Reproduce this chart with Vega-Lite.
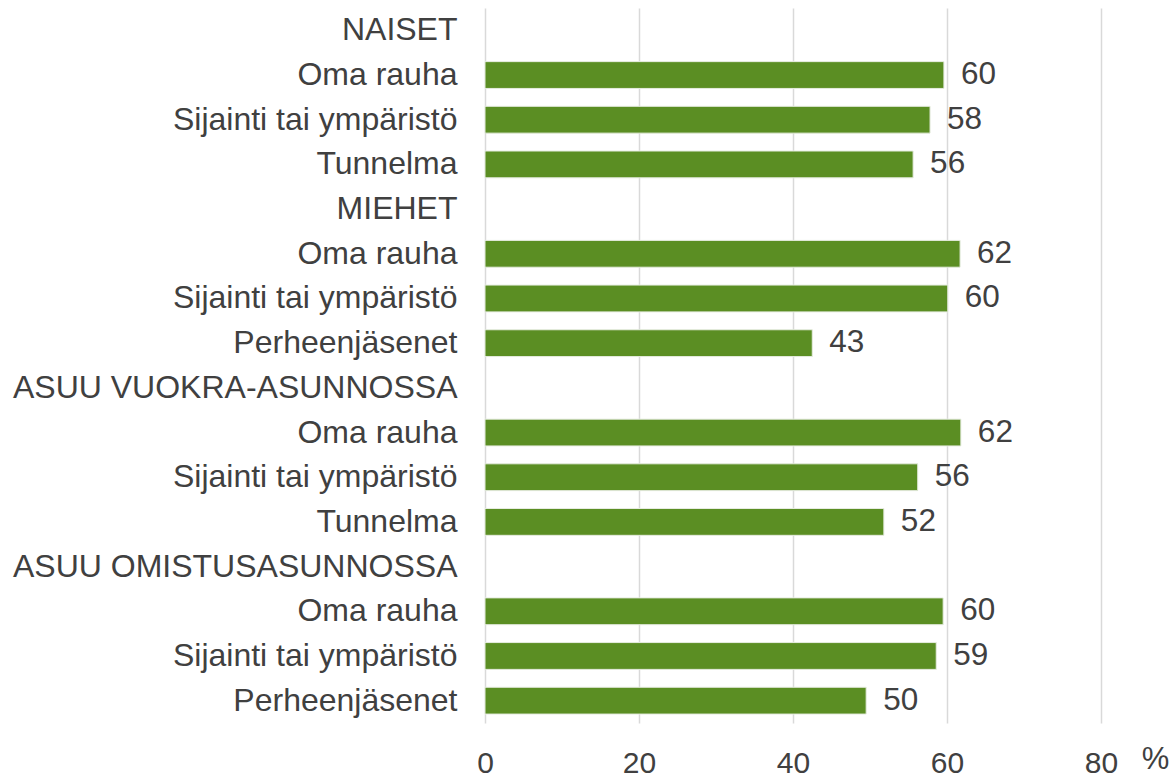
{
  "$schema": "https://vega.github.io/schema/vega-lite/v6.json",
  "autosize": {"type": "none"},
  "padding": {"left": 485, "top": 8, "right": 69, "bottom": 53},
  "width": 616,
  "height": 715,
  "background": "#ffffff",
  "config": {
    "font": "Liberation Sans",
    "view": {"stroke": null}
  },
  "data": {
    "values": [
      {"id": "01|NAISET", "value": null},
      {"id": "02|Oma rauha", "value": 59.6},
      {"id": "03|Sijainti tai ympäristö", "value": 57.8},
      {"id": "04|Tunnelma", "value": 55.6},
      {"id": "05|MIEHET", "value": null},
      {"id": "06|Oma rauha", "value": 61.7},
      {"id": "07|Sijainti tai ympäristö", "value": 60.1},
      {"id": "08|Perheenjäsenet", "value": 42.5},
      {"id": "09|ASUU VUOKRA-ASUNNOSSA", "value": null},
      {"id": "10|Oma rauha", "value": 61.8},
      {"id": "11|Sijainti tai ympäristö", "value": 56.2},
      {"id": "12|Tunnelma", "value": 51.8},
      {"id": "13|ASUU OMISTUSASUNNOSSA", "value": null},
      {"id": "14|Oma rauha", "value": 59.5},
      {"id": "15|Sijainti tai ympäristö", "value": 58.6},
      {"id": "16|Perheenjäsenet", "value": 49.5}
    ]
  },
  "encoding": {
    "y": {
      "field": "id",
      "type": "nominal",
      "scale": {
        "domain": ["01|NAISET", "02|Oma rauha", "03|Sijainti tai ympäristö", "04|Tunnelma", "05|MIEHET", "06|Oma rauha", "07|Sijainti tai ympäristö", "08|Perheenjäsenet", "09|ASUU VUOKRA-ASUNNOSSA", "10|Oma rauha", "11|Sijainti tai ympäristö", "12|Tunnelma", "13|ASUU OMISTUSASUNNOSSA", "14|Oma rauha", "15|Sijainti tai ympäristö", "16|Perheenjäsenet"],
        "paddingInner": 0.4,
        "paddingOuter": 0.2
      },
      "axis": {
        "title": null,
        "domain": false,
        "ticks": false,
        "labelExpr": "split(datum.value, '|')[1]",
        "labelFontSize": 32,
        "labelColor": "#404040",
        "labelPadding": 28,
        "labelLimit": 600
      }
    },
    "x": {
      "field": "value",
      "type": "quantitative",
      "scale": {"domain": [0, 80], "nice": false},
      "axis": {
        "values": [0, 20, 40, 60, 80],
        "domain": false,
        "ticks": false,
        "grid": true,
        "gridColor": "#d9d9d9",
        "gridWidth": 1.5,
        "labelFlush": false,
        "labelOverlap": false,
        "labelFontSize": 30,
        "labelColor": "#404040",
        "labelPadding": 25,
        "title": "%",
        "titleFontSize": 31,
        "titleFontWeight": "normal",
        "titleColor": "#404040",
        "titleX": 670,
        "titleY": 45,
        "titleAlign": "center",
        "titleBaseline": "alphabetic"
      }
    }
  },
  "layer": [
    {
      "mark": {"type": "bar", "color": "#5b8e23", "stroke": "#e6ece0", "strokeWidth": 1}
    },
    {
      "mark": {"type": "text", "align": "left", "baseline": "middle", "dx": 17, "fontSize": 31.5, "color": "#404040"},
      "encoding": {
        "text": {"field": "value", "type": "quantitative", "format": ".0f"}
      }
    }
  ]
}
